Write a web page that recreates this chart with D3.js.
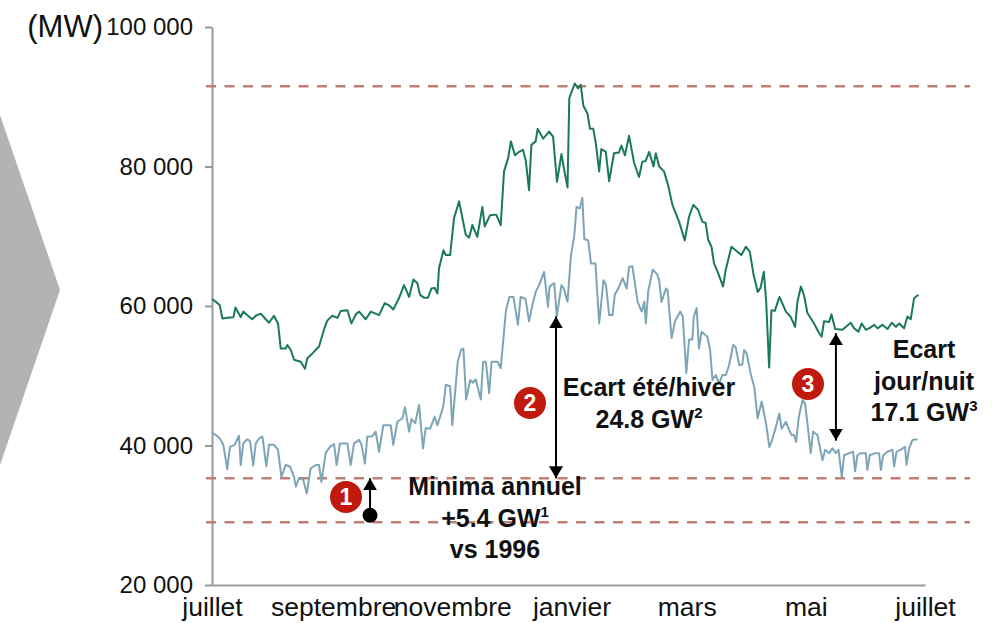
<!DOCTYPE html>
<html>
<head>
<meta charset="utf-8">
<script src="https://cdn.jsdelivr.net/npm/d3@7"></script>
<style>
  body { margin: 0; background: #fff; }
  svg { display: block; font-family: "Liberation Sans", Arial, sans-serif; }
</style>
</head>
<body>
<svg id="chart" width="994" height="623"></svg>
<script>
// consumption in thousands of MW; days counted from 1 July
const maxDays = [0,2,4,5.3,8,11,12,14.7,16,18,20.6,22.4,25,27.5,29.2,31.7,33.8,35.2,37.7,38.6,40.3,42,45.4,47.6,48.8,51.4,54.8,57.3,59,61.6,64.2,65.9,69.3,71.4,73.6,75.3,78.7,81.3,85.5,88.4,90.6,92.8,95.7,98.3,100.9,103.1,105.1,106.5,108.5,110.6,112.3,114,115.4,116.2,118.5,119.7,121.9,123.9,126.5,129.9,131.6,133.3,135.8,138.4,139.6,142.3,145.5,147.8,149.5,151.6,153,155.1,157.2,159.2,160.6,162.3,163.5,165.7,166.7,169.5,172.6,174.6,176.6,178.9,180.3,182,182.9,185.7,187.4,188.8,190.1,192.2,193.5,195.2,196.5,198.2,199.3,201.6,203.3,205.8,208.3,209.6,211.4,213.5,216.1,218.6,220.3,222,223.8,226,227.2,228.9,231.4,233.5,235.7,239.1,242,244.2,246.4,248.8,251,252.7,254,255.7,257,259.1,261.6,263,265.9,268.5,271,273.3,275.3,277.3,279.4,280.8,282.5,283.7,285.2,286.4,288.1,290.5,293.8,296.1,298.5,299.7,301.5,303.1,304.8,308.2,310.4,312.1,313.3,315.9,317.1,319,322.7,324.4,327,328.7,330.9,332.6,334.7,336.4,339,340.7,343.2,345.8,348,350.1,351.8,354.3,356,357.7,359.4,361.6];
const maxLoad = [61.0,60.6,60.1,58.2,58.3,58.4,59.8,58.4,59.2,58.7,58.1,58.6,58.9,58.1,57.6,58.6,57.5,53.9,53.9,54.4,53.7,52.3,52.0,51.0,52.5,53.2,54.2,56.6,57.9,58.6,58.3,59.3,59.4,57.5,58.8,59.2,58.1,59.2,58.7,60.4,60.1,59.5,61.1,63.0,61.3,63.8,63.3,61.6,61.2,61.2,62.5,62.6,61.8,65.4,68.0,67.3,67.3,72.6,75.0,70.2,69.8,71.6,69.9,74.2,71.4,73.0,73.1,71.6,79.3,81.2,83.6,81.6,82.1,82.4,80.9,76.6,83.1,83.6,85.4,84.0,85.0,84.3,77.8,81.8,79.5,77.0,89.8,91.9,91.2,91.7,88.7,87.6,85.4,85.4,83.3,79.3,82.5,82.1,77.9,81.9,82.0,83.0,81.6,84.4,80.5,78.5,80.7,80.8,82.1,80.0,81.9,80.0,79.3,77.3,74.5,72.1,69.4,72.8,74.5,73.8,72.1,71.9,69.5,68.5,66.1,64.7,62.8,65.2,68.5,67.9,67.3,68.5,67.8,64.4,62.0,62.6,64.9,60.6,51.2,59.4,59.3,61.3,59.2,58.5,57.0,60.6,62.8,61.5,59.0,57.5,56.3,55.6,57.8,57.7,58.8,56.7,56.6,57.0,57.6,56.8,56.3,57.5,56.6,56.8,57.3,56.8,57.3,56.7,57.6,57.0,57.5,56.8,58.5,58.1,61.1,61.6];

const minDays = [0,2,4,5.8,7.8,9.2,11.6,13.8,14.7,16,18.1,19.5,21.1,22.4,24.1,25.8,27.8,29.2,31.7,33.8,35.5,37.7,39.9,42,42.9,44.5,46.7,48.5,50.5,53.1,54.8,56,58.2,60.4,62.5,63.8,65.5,69.3,71,72.7,75.3,76.5,78.3,79.5,82,83.8,85.5,87.7,91.5,92.8,94.9,97.5,98.8,100.9,102.1,104,106,108,109.4,111.6,114,115.4,118.4,119.7,121.9,123,125.8,127.5,128.7,130.1,132.2,133.4,135,137.6,138.8,140.2,141.9,143.1,146.2,147.8,149.2,150.5,152.2,154.3,156.6,158,160.5,162.3,164,165.8,167.5,170,172,172.8,175.2,176.5,178.9,180.1,182,183.7,185.5,186.6,188.3,189.6,190.6,192.6,194,196.3,198.2,200.4,201.7,203.3,205,206.2,208.5,210.2,212.3,213.5,215.2,217.9,220,221.3,222.1,223.3,225.6,227.8,228.9,230.1,232.4,233.2,235.3,237,239.7,241,242.8,244.2,245.9,246.6,248.1,249.3,250.6,252.7,253.6,255,256.2,257.9,259.6,261.3,263,264.7,266.8,268.1,269.9,271.5,272.4,273.7,275.9,277.6,279.3,281.4,283.6,285.3,286.5,288.2,290.4,291.6,293.8,295.5,296.7,298,299,300.4,302.3,303.6,304.8,306.5,307.7,309.9,310.8,312.5,313.9,316,317.6,319.3,320.7,322.4,323.6,326.2,328.2,329.2,330.4,332.1,334.7,335.5,336.7,339.5,341.5,342.4,343.6,345.8,348.3,349.2,350.4,352.6,354.8,355.5,356.9,358.6,361.1];
const minLoad = [41.8,41.5,41.0,40.1,36.6,39.8,40.1,41.4,37.2,40.3,40.9,40.6,37.1,40.3,41.0,41.3,37.0,40.1,40.1,39.4,35.5,37.2,37.0,35.5,34.1,35.3,35.1,33.1,36.7,37.2,37.2,34.8,38.9,39.8,40.2,37.2,40.3,40.3,37.2,40.3,40.8,40.1,37.4,41.3,41.3,42.0,39.1,42.9,42.9,40.1,43.4,43.9,45.5,42.0,43.8,43.2,45.8,39.6,42.5,42.4,44.1,42.9,45.6,48.7,48.5,42.9,52.0,53.7,53.9,46.6,49.4,49.0,49.5,46.6,52.0,52.0,47.5,52.0,52.0,51.1,55.4,59.4,61.3,61.3,57.3,61.3,61.0,57.8,60.1,62.1,63.0,64.9,59.9,62.8,63.3,58.5,63.0,62.5,60.6,67.1,70.2,74.2,74.0,75.5,69.6,69.4,66.1,66.1,57.5,63.7,63.0,58.7,58.7,61.6,62.8,64.0,62.5,65.6,65.7,60.6,59.2,60.6,57.5,62.1,65.2,64.6,63.7,60.6,62.5,62.3,55.4,57.8,59.2,58.5,50.4,55.2,55.2,58.4,59.7,53.9,56.3,55.8,55.6,53.7,49.4,50.1,48.9,50.1,50.1,51.5,54.4,54.1,51.5,51.6,53.7,53.2,50.1,48.4,43.9,46.3,43.2,39.8,40.6,42.2,44.6,42.4,43.4,42.2,41.5,41.5,40.5,44.1,46.5,46.0,43.2,38.9,42.0,41.5,40.3,37.9,39.4,38.9,39.6,38.9,39.4,35.5,38.6,38.9,39.1,36.3,38.6,38.9,38.9,36.5,38.6,38.9,38.9,36.5,38.6,39.1,39.4,37.0,39.1,39.4,39.8,37.2,39.6,40.8,40.9];

const refLevels = [91500, 35300, 29000];
const yTicks = [20000, 40000, 60000, 80000, 100000];
const monthLabels = ["juillet", "septembre", "novembre", "janvier", "mars", "mai", "juillet"];

const svg = d3.select("#chart");
const start = new Date(Date.UTC(2012, 6, 1));
const end = new Date(Date.UTC(2013, 6, 1));
const toDate = d => new Date(start.getTime() + d * 864e5);

const x = d3.scaleUtc().domain([start, end]).range([212, 925]);
const y = d3.scaleLinear().domain([20000, 100000]).range([585, 27]);

// grey chevron on the left
svg.append("path")
  .attr("d", "M0,115L60,290L0,465Z")
  .attr("fill", "#b3b3b3");

// axes
const fmt = d => d3.format(",")(d).replace(/,/g, " ");
const yAxis = svg.append("g")
  .attr("transform", "translate(212,0)")
  .call(d3.axisLeft(y).tickValues(yTicks).tickFormat(fmt).tickSize(7).tickSizeOuter(0).tickPadding(12));
yAxis.selectAll("path,line").attr("stroke", "#999").attr("stroke-width", 2);
yAxis.selectAll("text").attr("font-size", 24).attr("fill", "#111")
  .attr("font-family", "Liberation Sans, Arial, sans-serif");

const xTickDates = x.ticks(d3.utcMonth.every(2));
const xAxis = svg.append("g")
  .attr("transform", "translate(0,585)")
  .call(d3.axisBottom(x).tickValues(xTickDates).tickFormat((d, i) => monthLabels[i]).tickSize(0).tickPadding(12));
xAxis.select(".domain").attr("stroke", "#999").attr("stroke-width", 2);
xAxis.selectAll("text").attr("font-size", 26.5).attr("fill", "#111")
  .attr("font-family", "Liberation Sans, Arial, sans-serif");

// unit label
svg.append("text").attr("x", 103).attr("y", 37).attr("text-anchor", "end")
  .attr("font-size", 31).attr("fill", "#111").text("(MW)");

// dashed reference levels
svg.selectAll("line.ref").data(refLevels).join("line")
  .attr("class", "ref")
  .attr("x1", 206).attr("x2", 970)
  .attr("y1", d => y(d)).attr("y2", d => y(d))
  .attr("stroke", "#bf7f76").attr("stroke-width", 2.5)
  .attr("stroke-dasharray", "10,8.5");

// series
const line = d3.line().x(d => x(toDate(d[0]))).y(d => y(d[1] * 1000));
const minSeries = d3.zip(minDays, minLoad);
const maxSeries = d3.zip(maxDays, maxLoad);

svg.append("path").datum(minSeries)
  .attr("d", line).attr("fill", "none")
  .attr("stroke", "#7ea5b7").attr("stroke-width", 2).attr("stroke-linejoin", "round");
svg.append("path").datum(maxSeries)
  .attr("d", line).attr("fill", "none")
  .attr("stroke", "#1b7a56").attr("stroke-width", 2).attr("stroke-linejoin", "round");

// arrow markers
const defs = svg.append("defs");
defs.append("marker").attr("id", "head")
  .attr("markerUnits", "userSpaceOnUse")
  .attr("viewBox", "0 -7 12 14").attr("refX", 12).attr("refY", 0)
  .attr("markerWidth", 12).attr("markerHeight", 14).attr("orient", "auto-start-reverse")
  .append("path").attr("d", "M0,-7L12,0L0,7Z").attr("fill", "#000");

// annotation arrows: day, from, to, both ends
const arrows = [
  {day: 80.9, from: 30000, to: 35300, both: false},
  {day: 176.1, from: 35300, to: 58500, both: true},
  {day: 319.4, from: 40700, to: 56100, both: true}
];
arrows.forEach(a => {
  svg.append("line")
    .attr("x1", x(toDate(a.day))).attr("x2", x(toDate(a.day)))
    .attr("y1", y(a.from)).attr("y2", y(a.to))
    .attr("stroke", "#000").attr("stroke-width", 2)
    .attr("marker-end", "url(#head)")
    .attr("marker-start", a.both ? "url(#head)" : null);
  if (!a.both) {
    svg.append("circle").attr("cx", x(toDate(a.day))).attr("cy", y(a.from))
      .attr("r", 7.5).attr("fill", "#000");
  }
});

// numbered red badges
const badges = [
  {n: "1", cx: 346, cy: 497},
  {n: "2", cx: 530, cy: 403},
  {n: "3", cx: 808, cy: 384}
];
const b = svg.selectAll("g.badge").data(badges).join("g").attr("class", "badge")
  .attr("transform", d => `translate(${d.cx},${d.cy})`);
b.append("circle").attr("r", 16).attr("fill", "#c0190e");
b.append("text").attr("text-anchor", "middle").attr("dy", "0.36em")
  .attr("font-size", 23).attr("font-weight", "bold").attr("fill", "#fff").text(d => d.n);

// annotation texts
const notes = [
  {cx: 495, lines: [["Minima annuel"], ["+5.4 GW", "1"], ["vs 1996"]], y0: 495},
  {cx: 649, lines: [["Ecart été/hiver"], ["24.8 GW", "2"]], y0: 396},
  {cx: 924, lines: [["Ecart"], ["jour/nuit"], ["17.1 GW", "3"]], y0: 358}
];
notes.forEach(nt => {
  nt.lines.forEach((ln, i) => {
    const t = svg.append("text").attr("x", nt.cx).attr("y", nt.y0 + i * 31.5)
      .attr("text-anchor", "middle").attr("font-size", 25).attr("font-weight", "bold")
      .attr("fill", "#111");
    t.append("tspan").text(ln[0]);
    if (ln[1]) t.append("tspan").attr("font-size", 15).attr("dy", -10).text(ln[1]);
  });
});
</script>
</body>
</html>
